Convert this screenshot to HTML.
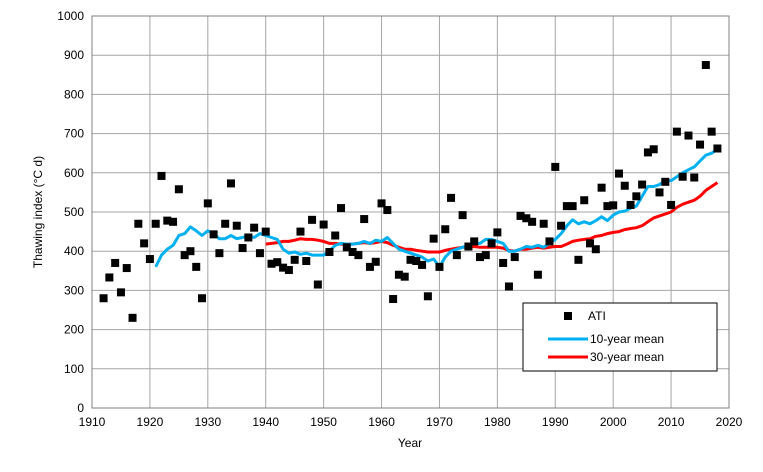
<!DOCTYPE html>
<html><head><meta charset="utf-8"><style>
body{margin:0;background:#fff;font-family:"Liberation Sans",Arial,sans-serif}
svg text{font-family:"Liberation Sans",Arial,sans-serif;font-size:12px;fill:#000}
</style></head><body>
<svg id="chart" width="763" height="467" xmlns="http://www.w3.org/2000/svg"></svg>
<script>
const ati=[280,333,370,295,357,230,470,420,380,470,592,478,475,558,390,400,360,280,522,443,395,470,573,465,408,435,460,395,450,368,372,358,352,378,450,375,480,315,468,398,440,510,410,398,390,482,360,373,522,505,278,340,335,378,375,365,285,432,360,456,536,390,492,412,425,385,390,420,448,370,310,385,490,484,475,340,470,425,615,465,515,515,378,530,420,405,562,515,517,598,567,518,540,570,652,660,550,577,518,705,590,695,588,672,875,705,662];
const atiStart=1912;
const mean10=[360,390,405,415,440,445,462,452,440,452,445,432,432,440,432,435,440,435,445,440,435,430,405,395,398,392,395,390,390,390,400,415,420,418,418,420,425,420,428,425,435,420,405,400,395,390,385,375,380,360,385,400,405,410,415,420,420,430,430,425,420,400,400,405,412,410,415,410,420,430,445,465,480,470,475,470,478,488,478,492,500,502,510,515,540,565,565,570,580,580,590,600,608,615,630,645,650,660];
const mean10Start=1921;
const mean30=[418,420,422,425,425,428,432,430,430,428,425,420,420,418,418,418,420,422,420,422,425,422,415,410,405,405,402,400,398,398,398,402,405,408,410,410,412,410,410,410,410,408,402,400,405,405,408,410,408,410,412,412,418,425,428,430,432,438,440,445,448,450,455,458,460,465,475,485,490,495,500,512,520,525,530,540,555,565,575];
const mean30Start=1940;
const xTicks=[1910,1920,1930,1940,1950,1960,1970,1980,1990,2000,2010,2020];
const yTicks=[0,100,200,300,400,500,600,700,800,900,1000];

const NS="http://www.w3.org/2000/svg";
const svg=document.getElementById('chart');
const L=92,R=729,T=16,B=408;
const X=v=>L+(v-1910)/110*(R-L);
const Y=v=>B-v/1000*(B-T);
function el(t,a,p){const e=document.createElementNS(NS,t);for(const k in a)e.setAttribute(k,a[k]);(p||svg).appendChild(e);return e;}

yTicks.forEach(v=>{
  const g=el('line',{x1:L,x2:R,y1:Y(v),y2:Y(v),stroke:'#a6a6a6','stroke-width':1});
  
  
  const t=el('text',{x:L-8,y:Y(v)+4,'text-anchor':'end'});t.textContent=v;
  
  
});
xTicks.forEach(v=>{
  const g=el('line',{x1:X(v),x2:X(v),y1:T,y2:B,stroke:'#a6a6a6','stroke-width':1});
  
  
  const t=el('text',{x:X(v),y:B+18,'text-anchor':'middle'});t.textContent=v;
  
  
});
const frame=el('rect',{x:L,y:T,width:R-L,height:B-T,fill:'none',stroke:'#808080','stroke-width':1});



function line(arr,start,color,name){
  const d=arr.map((v,i)=>(i?'L':'M')+X(start+i).toFixed(1)+' '+Y(v).toFixed(1)).join(' ');
  const p=el('path',{d:d,fill:'none',stroke:color,'stroke-width':3,'stroke-linejoin':'round'});
  
  
}
line(mean30,mean30Start,'#ff0000','line-30-year-mean');
line(mean10,mean10Start,'#00b0f0','line-10-year-mean');
ati.forEach((v,i)=>{
  const r=el('rect',{x:X(atiStart+i)-4,y:Y(v)-4,width:8,height:8,fill:'#000'});
  
  
});

const yt=el('text',{x:0,y:0,transform:'translate(42,212) rotate(-90)','text-anchor':'middle'});yt.textContent='Thawing index (°C d)';


const xt=el('text',{x:410,y:447,'text-anchor':'middle'});xt.textContent='Year';



const lg=el('g',{});


el('rect',{x:523,y:303,width:194,height:68,fill:'#fff',stroke:'#000','stroke-width':1},lg);
const e1=el('rect',{x:564,y:312,width:8,height:8,fill:'#000'},lg);


let t1=el('text',{x:588,y:320},lg);t1.textContent='ATI';
const e2=el('line',{x1:548,x2:588,y1:339,y2:339,stroke:'#00b0f0','stroke-width':3},lg);


let t2=el('text',{x:590,y:343},lg);t2.textContent='10-year mean';
const e3=el('line',{x1:548,x2:588,y1:357,y2:357,stroke:'#ff0000','stroke-width':3},lg);


let t3=el('text',{x:590,y:361},lg);t3.textContent='30-year mean';
</script>
</body></html>
